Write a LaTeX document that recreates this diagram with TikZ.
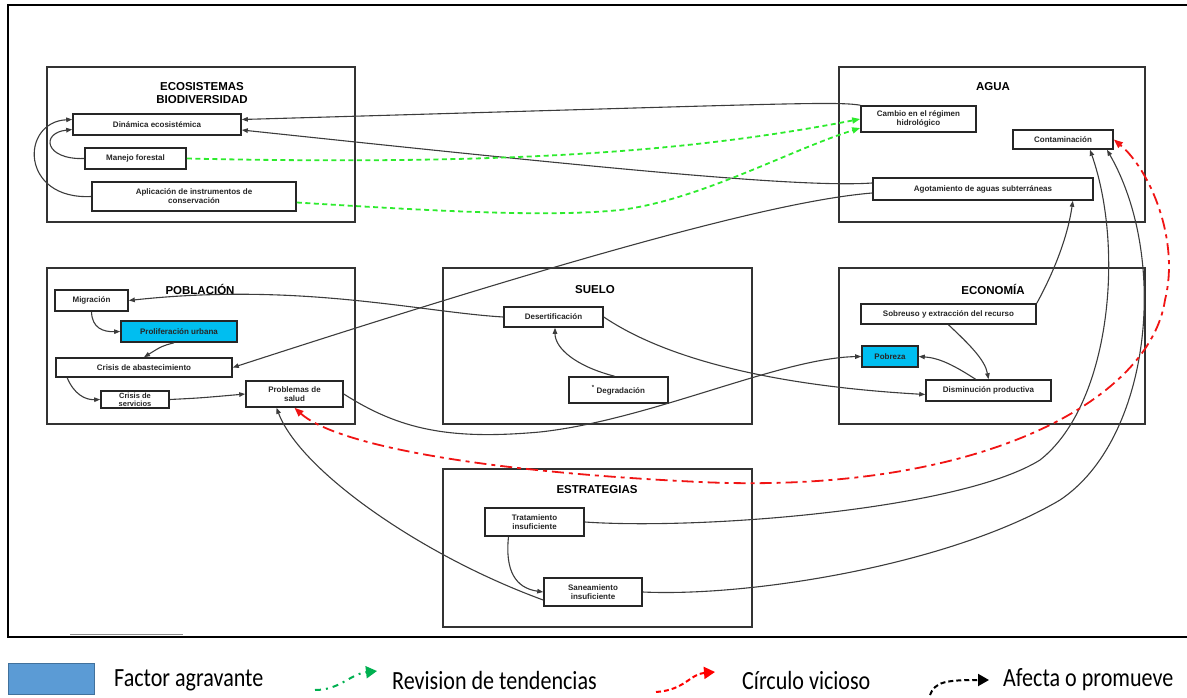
\documentclass[tikz,border=0pt]{standalone}
\usepackage{fontspec}
\usepackage{graphicx}
\setmainfont{Liberation Sans}
\newfontfamily\legendfont{Carlito}
\usetikzlibrary{arrows.meta}

\definecolor{cyanbox}{RGB}{0,190,240}
\definecolor{keyblue}{RGB}{91,155,213}
\definecolor{keyedge}{RGB}{65,113,156}
\definecolor{linkgray}{RGB}{60,60,60}
\definecolor{revgreen}{RGB}{45,235,45}
\definecolor{keygreen}{RGB}{0,176,80}
\definecolor{vicred}{RGB}{240,20,20}

\newcommand{\keylabel}[1]{\scalebox{0.96}[1.14]{#1}}

\tikzset{
  group/.style={draw=black!80, line width=1.4pt, inner sep=0pt},
  gtitle/.style={font=\fontsize{11.5}{13}\selectfont\bfseries, align=center, inner sep=0pt},
  item/.style={draw=black!85, line width=1.6pt, fill=white, inner sep=0pt, align=center,
    font=\fontsize{8}{8.8}\selectfont\bfseries, text=black!85},
  hot/.style={item, fill=cyanbox},
  link/.style={draw=linkgray, line width=1.1pt, -{Triangle[length=6pt,width=4.5pt]}},
  review/.style={draw=revgreen, line width=1.8pt, dash pattern=on 5pt off 3.5pt,
    -{Triangle[length=8pt,width=6pt]}},
  vicious/.style={draw=vicred, line width=1.8pt, dash pattern=on 12pt off 5pt on 4pt off 5pt,
    {Triangle[length=9pt,width=7pt]}-{Triangle[length=9pt,width=7pt]}},
  keytext/.style={font=\legendfont\fontsize{23}{26}\selectfont, anchor=west, inner sep=0pt},
  keytip/.style={-{Triangle[length=11pt,width=12pt]}},
}

\begin{document}
\begin{tikzpicture}[x=1pt,y=-1pt]
\useasboundingbox (0,0) rectangle (1187,698);

% outer frame
\draw[line width=2.5pt] (1200,5) -- (8,5) -- (8,637) -- (1200,637);
\draw[black!45, line width=1.5pt] (70,634.5) -- (183,634.5);

% thematic groups
\node[group, minimum width=308pt, minimum height=155pt] (eco)   at (201,144.5) {};
\node[group, minimum width=306pt, minimum height=155pt] (agua)  at (992,144.5) {};
\node[group, minimum width=308pt, minimum height=156pt] (pob)   at (201,346) {};
\node[group, minimum width=309pt, minimum height=156pt] (suelo) at (597.5,346) {};
\node[group, minimum width=306pt, minimum height=156pt] (econ)  at (992,346) {};
\node[group, minimum width=309pt, minimum height=158pt] (estr)  at (597.5,548) {};

\node[gtitle] (ecot)   at (202,93.5) {ECOSISTEMAS\\BIODIVERSIDAD};
\node[gtitle] (aguat)  at (993,87) {AGUA};
\node[gtitle] (pobt)   at (200,289) {POBLACIÓN};
\node[gtitle] (suelot) at (595,290) {SUELO};
\node[gtitle] (econt)  at (993,289) {ECONOMÍA};
\node[gtitle] (estrt)  at (597,490) {ESTRATEGIAS};

% ecosistemas
\node[item, minimum width=168pt, minimum height=21pt] (dyn) at (157,124.5) {Dinámica ecosistémica};
\node[item, minimum width=101pt, minimum height=21pt] (man) at (135.5,158.5) {Manejo forestal};
\node[item, minimum width=204pt, minimum height=29pt] (apl) at (194,196.5) {Aplicación de instrumentos de\\conservación};

% agua
\node[item, minimum width=115pt, minimum height=26pt] (cam) at (918.5,119) {Cambio en el régimen\\hidrológico};
\node[item, minimum width=100pt, minimum height=19pt] (con) at (1063,139.5) {Contaminación};
\node[item, minimum width=220pt, minimum height=22pt] (ago) at (983,189) {Agotamiento de aguas subterráneas};

% población
\node[item, minimum width=73pt,  minimum height=21pt] (mig) at (91.5,300.5) {Migración};
\node[hot,  minimum width=116pt, minimum height=21pt] (pro) at (179,331.5) {Proliferación urbana};
\node[item, minimum width=176pt, minimum height=19pt] (cab) at (144,367.5) {Crisis de abastecimiento};
\node[item, minimum width=68pt,  minimum height=17pt, font=\fontsize{7.5}{8}\selectfont\bfseries] (cse) at (135,399.5) {Crisis de\\servicios};
\node[item, minimum width=97pt,  minimum height=26pt] (sal) at (294.5,394) {Problemas de\\salud};

% suelo
\node[item, minimum width=99pt, minimum height=20pt] (des) at (553.5,317) {Desertificación};
\node[item, minimum width=99pt, minimum height=26pt] (deg) at (618.5,390) {\raisebox{4pt}{\fontsize{6}{6}\selectfont *}\ Degradación};

% economía
\node[item, minimum width=175pt, minimum height=20pt] (sob)  at (948.5,314) {Sobreuso y extracción del recurso};
\node[hot,  minimum width=56pt,  minimum height=21pt] (pobz) at (890,356.5) {Pobreza};
\node[item, minimum width=125pt, minimum height=21pt] (dis)  at (988.5,390.5) {Disminución productiva};

% estrategias
\node[item, minimum width=99pt, minimum height=28pt] (tra) at (534.5,522) {Tratamiento\\insuficiente};
\node[item, minimum width=98pt, minimum height=28pt] (san) at (593,592) {Saneamiento\\insuficiente};

% links inside and towards ecosistemas
\draw[link] (cam.north west) .. controls (835,101) and (780,104) .. ([yshift=5pt]dyn.east);
\draw[link] ([yshift=6pt]ago.west) .. controls (800,188) and (600,168) .. ([yshift=-5.5pt]dyn.east);
\draw[link] (apl.west) .. controls (20,200) and (20,122) .. ([yshift=5pt]dyn.west);
\draw[link] (man.west) .. controls (45,160) and (40,133) .. ([yshift=-5pt]dyn.west);

% trend revision
\draw[review] (man.east) .. controls (520,166) and (700,150) .. (cam.west);
\draw[review] ([yshift=-6pt]apl.east) .. controls (450,212) and (550,217) .. (620,210)
  .. controls (700,200) and (790,150) .. ([yshift=-9pt]cam.west);

% población
\draw[link] (mig.south) .. controls (92,328) and (103,332) .. (pro.west);
\draw[link] ([xshift=-5pt]pro.south) .. controls (162,346) .. (cab.north);
\draw[link] ([xshift=12pt]cab.south west) .. controls (74,394) and (85,400) .. (cse.west);
\draw[link] (cse.east) .. controls (200,398) .. (sal.west);
\draw[link] (des.west) .. controls (420,312) and (300,282) .. (mig.east);
\draw[link] ([yshift=-4pt]ago.west) .. controls (800,199) and (650,232) .. (cab.east);
\draw[link] (sal.east) .. controls (400,430) and (450,440) .. (540,432)
  .. controls (650,420) and (780,358) .. (pobz.west);

% suelo
\draw[link] ([xshift=-4pt]deg.north) .. controls (575,366) and (555,348) .. ([xshift=1.5pt]des.south);
\draw[link] (des.east) .. controls (660,355) and (760,385) .. ([yshift=-4pt]dis.west);

% economía
\draw[link] (sob.north east) .. controls (1055,270) and (1068,235) .. ([xshift=-21pt]ago.south east);
\draw[link] (sob.south) .. controls (970,345) and (985,360) .. (dis.north);
\draw[link] ([xshift=-13pt]dis.north) .. controls (955,366) and (940,358) .. (pobz.east);

% estrategias
\draw[link] ([xshift=-26pt]tra.south) .. controls (505,570) and (515,588) .. (san.west);
\draw[link] ([yshift=-8pt]san.west) .. controls (420,555) and (300,470) .. ([xshift=-18pt]sal.south);
\draw[link] (tra.east) .. controls (700,530) and (960,510) .. (1040,460)
  .. controls (1110,405) and (1125,250) .. ([xshift=27pt]con.south);
\draw[link] (san.east) .. controls (750,597) and (950,565) .. (1060,500)
  .. controls (1150,440) and (1170,260) .. ([xshift=44pt]con.south);

% vicious circle
\draw[vicious] (sal.south) .. controls (330,440) and (450,470) .. (700,482)
  .. controls (980,495) and (1150,400) .. (1165,300)
  .. controls (1180,240) and (1150,170) .. (con.east);

% legend
\node[draw=keyedge, fill=keyblue, line width=1.5pt, minimum width=86pt, minimum height=31pt, inner sep=0pt] (kbox) at (51.5,679) {};
\node[keytext] (ktxt1) at (114,680) {\keylabel{Factor agravante}};

\coordinate (kg1) at (315,690);
\coordinate (kg2) at (377,671);
\draw[keygreen, line width=2pt, dash pattern=on 6pt off 5pt on 2pt off 5pt, keytip]
  (kg1) .. controls (340,690) and (350,674) .. (kg2);
\node[keytext] (ktxt2) at (392,680) {\keylabel{Revision de tendencias}};

\coordinate (kr1) at (656,692);
\coordinate (kr2) at (715,672);
\draw[red, line width=2pt, dash pattern=on 5pt off 3pt, keytip]
  (kr1) .. controls (685,690) and (690,674) .. (kr2);
\node[keytext] (ktxt3) at (742,680) {\keylabel{Círculo vicioso}};

\coordinate (kk1) at (930,695);
\coordinate (kk2) at (989,680);
\draw[black, line width=2pt, dash pattern=on 5pt off 3pt, keytip]
  (kk1) .. controls (935,682) and (945,680) .. (kk2);
\node[keytext] (ktxt4) at (1003,680) {\keylabel{Afecta o promueve}};
\end{tikzpicture}
\end{document}
